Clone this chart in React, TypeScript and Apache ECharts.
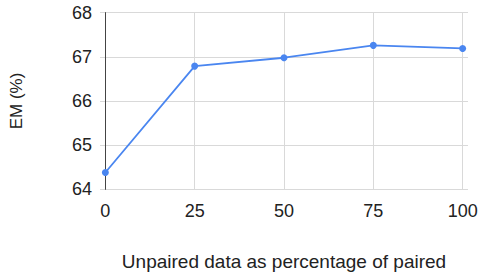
import React, { useEffect, useRef } from "react";
import * as echarts from "echarts";

const xValues = [0, 25, 50, 75, 100];
const emValues = [64.38, 66.79, 66.98, 67.26, 67.19];
const xTicks = [0, 25, 50, 75, 100];
const xGridLines = [25, 50, 75, 100];

export default function App() {
  const ref = useRef<HTMLDivElement>(null);
  useEffect(() => {
    if (!ref.current) return;
    const chart = echarts.init(ref.current, null, { renderer: "svg" });
    const font = "Arial, 'Liberation Sans', sans-serif";
    chart.setOption({
      animation: false,
      grid: {
        left: 100,
        right: 12,
        top: 12.7,
        bottom: 83.7,
        containLabel: false,
        outerBoundsMode: "none",
      },
      xAxis: {
        type: "value",
        min: -1.5,
        max: 101.5,
        name: "Unpaired data as percentage of paired",
        nameLocation: "middle",
        nameGap: 63,
        nameTextStyle: { fontSize: 19, color: "#222", fontFamily: font },
        axisLine: { show: false },
        axisTick: { show: false },
        splitLine: { show: false },
        axisLabel: {
          customValues: xTicks,
          fontSize: 18,
          color: "#222",
          fontFamily: font,
          margin: 13,
        },
      },
      yAxis: {
        type: "value",
        min: 64,
        max: 68,
        interval: 1,
        name: "EM (%)",
        nameLocation: "middle",
        nameGap: 75,
        nameRotate: 90,
        nameTextStyle: { fontSize: 17, color: "#222", fontFamily: font },
        axisLine: { show: true, lineStyle: { color: "#444", width: 1 } },
        axisTick: { show: false },
        splitLine: { show: true, lineStyle: { color: "#d9d9d9", width: 1 } },
        axisLabel: { fontSize: 18, color: "#222", fontFamily: font, margin: 8 },
      },
      series: [
        {
          type: "line",
          data: xValues.map((x, i) => [x, emValues[i]]),
          symbol: "circle",
          symbolSize: 7,
          showSymbol: true,
          lineStyle: { color: "#4a86f0", width: 1.8 },
          itemStyle: { color: "#4a86f0" },
          z: 5,
          markLine: {
            silent: true,
            symbol: ["none", "none"],
            label: { show: false },
            data: [
              { xAxis: 0, lineStyle: { color: "#444", width: 1, type: "solid" } },
              ...xGridLines.map((v) => ({
                xAxis: v,
                lineStyle: { color: "#d9d9d9", width: 1, type: "solid" },
              })),
            ],
            z: 1,
          },
        },
      ],
    });
    return () => chart.dispose();
  }, []);
  return (
    <div
      ref={ref}
      style={{ position: "absolute", left: 0, top: 0, width: 480, height: 273 }}
    />
  );
}
